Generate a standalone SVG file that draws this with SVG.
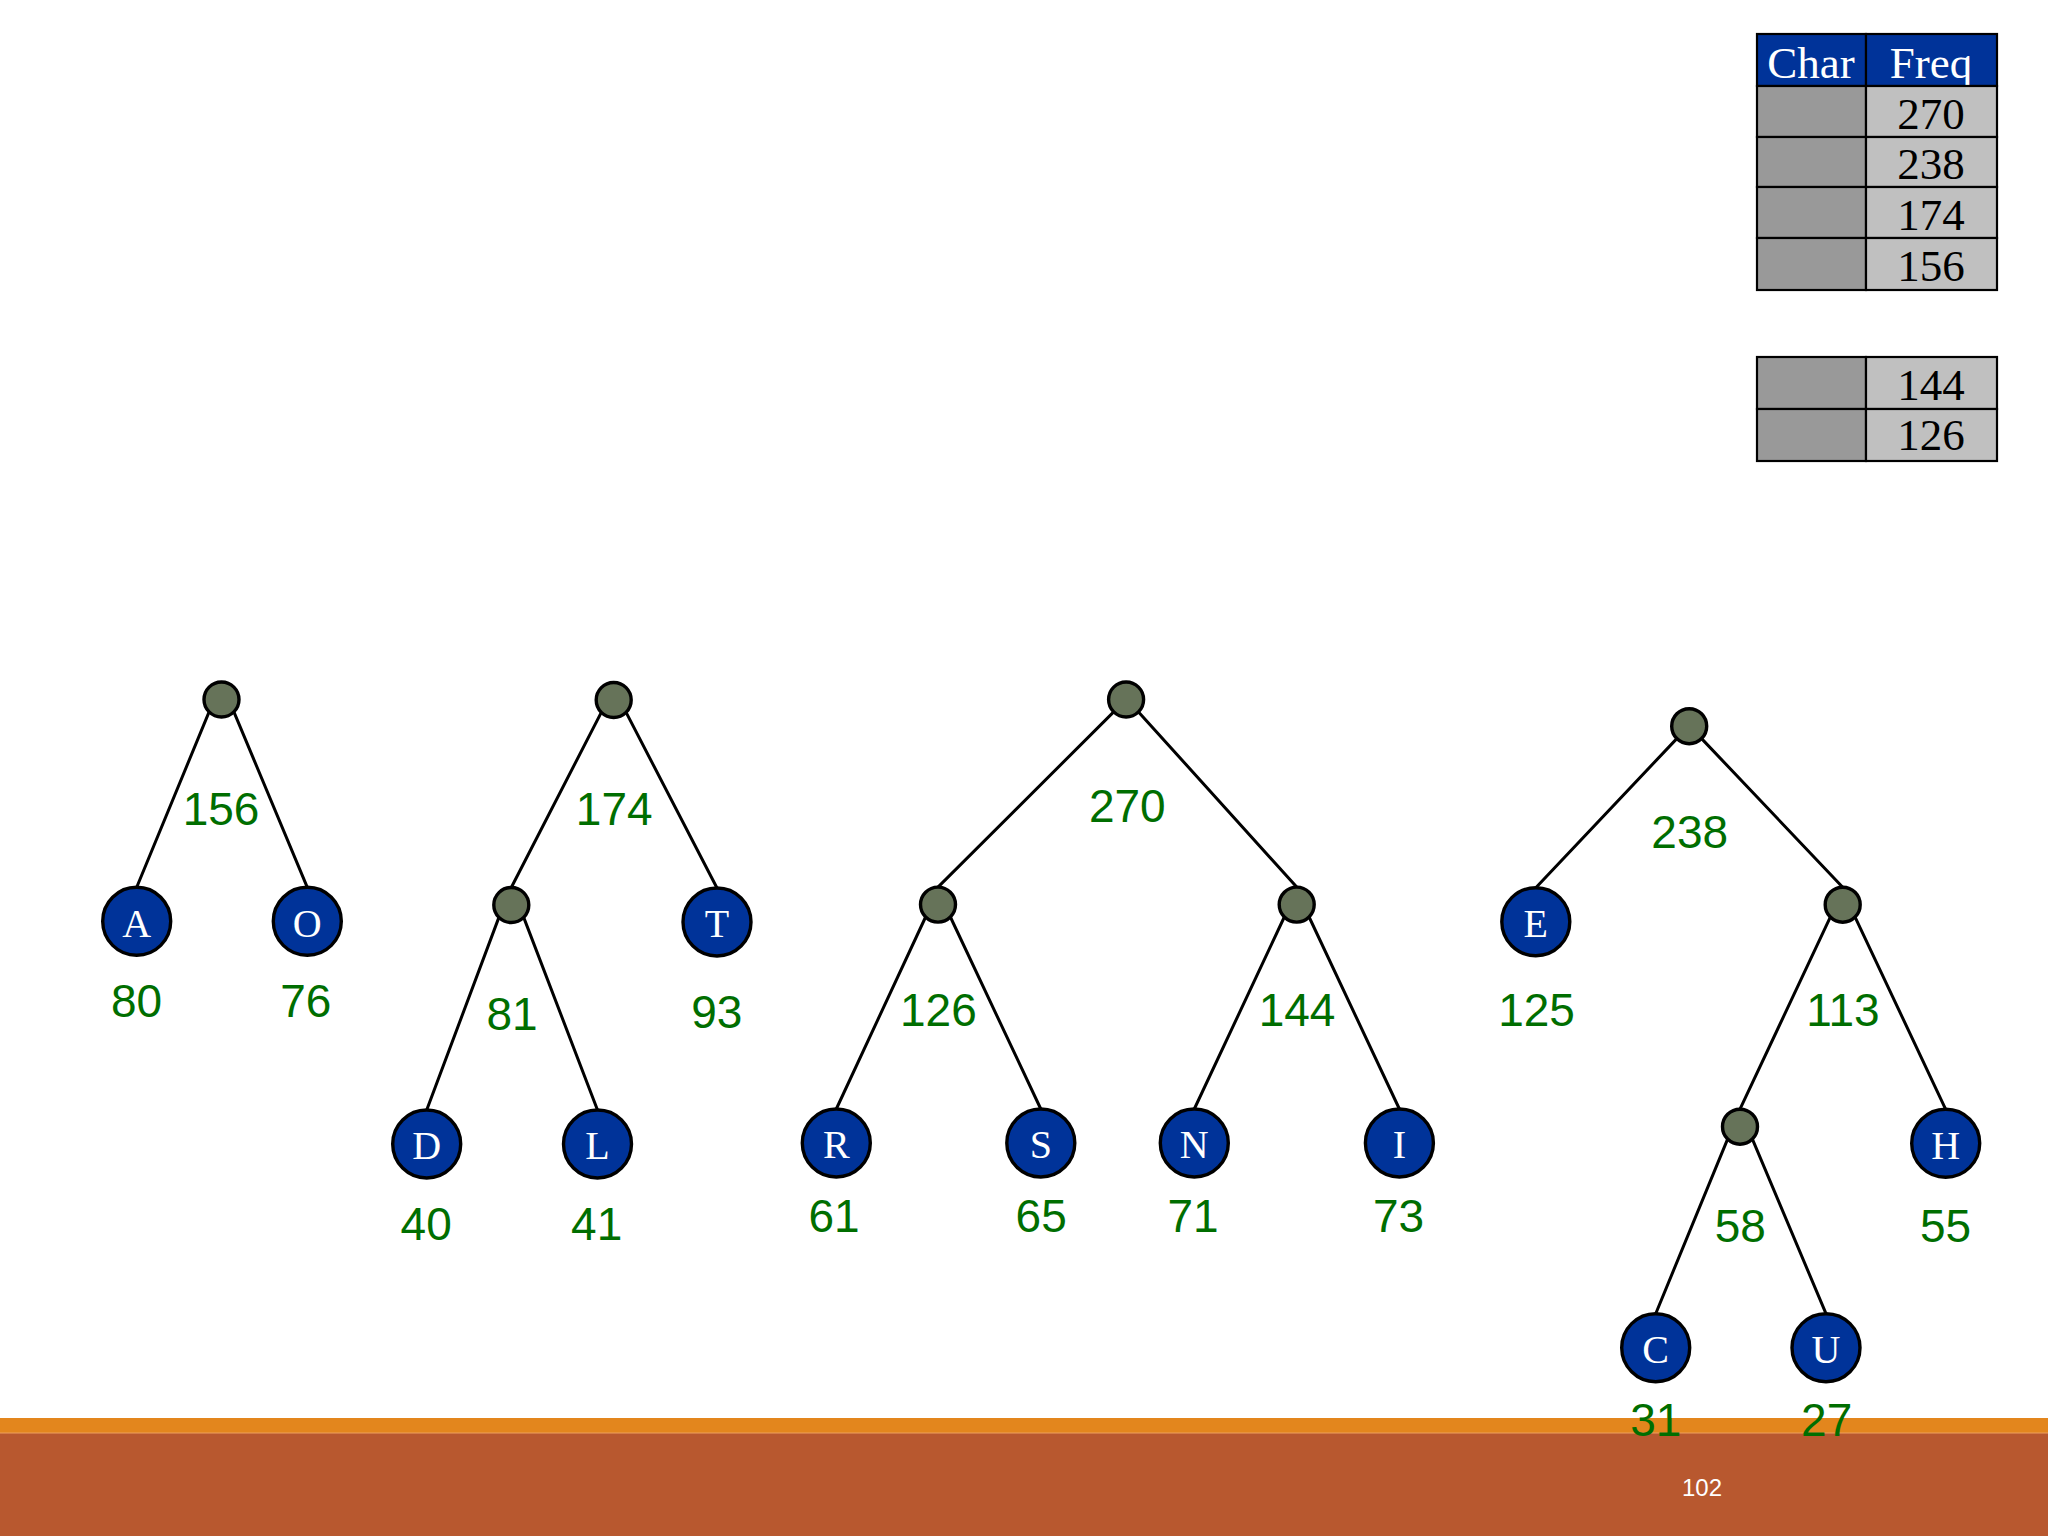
<svg xmlns="http://www.w3.org/2000/svg" width="2048" height="1536" viewBox="0 0 2048 1536">
<style>
.edge{stroke:#000;stroke-width:3;fill:none;stroke-linecap:round}
.inner{fill:#667359;stroke:#000;stroke-width:3.4}
.leaf{fill:#003399;stroke:#000;stroke-width:3.4}
.ch{font-family:"Liberation Serif","Times New Roman",serif;font-size:40px;fill:#fff;text-anchor:middle}
.num{font-family:"Comic Sans MS","Liberation Sans",sans-serif;font-size:46px;fill:#006e00;text-anchor:middle}
.tc{stroke:#000;stroke-width:2.2}
.th{fill:#003399}
.tg1{fill:#999999}
.tg2{fill:#c0c0c0}
.tt{font-family:"Liberation Serif","Times New Roman",serif;font-size:45px;text-anchor:middle}
</style>
<rect width="2048" height="1536" fill="#ffffff"/>

<g id="freq-table">
  <rect class="th tc" x="1757" y="34" width="109" height="52"/>
  <rect class="th tc" x="1866" y="34" width="131" height="52"/>
  <text class="tt" x="1811" y="78" fill="#fff">Char</text>
  <text class="tt" x="1931" y="78" fill="#fff">Freq</text>
  <rect class="tg1 tc" x="1757" y="86" width="109" height="51"/>
  <rect class="tg2 tc" x="1866" y="86" width="131" height="51"/>
  <text class="tt" x="1931" y="129">270</text>
  <rect class="tg1 tc" x="1757" y="137" width="109" height="50"/>
  <rect class="tg2 tc" x="1866" y="137" width="131" height="50"/>
  <text class="tt" x="1931" y="179">238</text>
  <rect class="tg1 tc" x="1757" y="187" width="109" height="51"/>
  <rect class="tg2 tc" x="1866" y="187" width="131" height="51"/>
  <text class="tt" x="1931" y="230">174</text>
  <rect class="tg1 tc" x="1757" y="238" width="109" height="52"/>
  <rect class="tg2 tc" x="1866" y="238" width="131" height="52"/>
  <text class="tt" x="1931" y="281">156</text>
</g>
<g id="freq-table-2">
  <rect class="tg1 tc" x="1757" y="357" width="109" height="52"/>
  <rect class="tg2 tc" x="1866" y="357" width="131" height="52"/>
  <text class="tt" x="1931" y="400">144</text>
  <rect class="tg1 tc" x="1757" y="409" width="109" height="52"/>
  <rect class="tg2 tc" x="1866" y="409" width="131" height="52"/>
  <text class="tt" x="1931" y="450">126</text>
</g>

<g id="footer">
  <rect x="0" y="1418" width="2048" height="15" fill="#e3861d"/>
  <rect x="0" y="1433" width="2048" height="103" fill="#b8582f"/>
  <line x1="0" y1="1433" x2="2048" y2="1433" stroke="#eda060" stroke-width="1.2"/>
  <text x="1702" y="1496" font-family="Liberation Sans, Arial, sans-serif" font-size="24" fill="#ffffff" text-anchor="middle">102</text>
</g>

<g id="connectors">
  <line class="edge" x1="209.1" y1="711.9" x2="136.7" y2="887.3"/>
  <line class="edge" x1="233.9" y1="711.9" x2="307.3" y2="887.3"/>

  <line class="edge" x1="601.3" y1="712.4" x2="511.3" y2="887.5"/>
  <line class="edge" x1="626.1" y1="712.4" x2="717" y2="888"/>
  <line class="edge" x1="498.9" y1="917.4" x2="426.7" y2="1110"/>
  <line class="edge" x1="523.7" y1="917.4" x2="597.5" y2="1110"/>

  <line class="edge" x1="1113.7" y1="711.9" x2="938" y2="887.1"/>
  <line class="edge" x1="1138.5" y1="711.9" x2="1296.7" y2="887.1"/>
  <line class="edge" x1="925.6" y1="917" x2="836.3" y2="1109"/>
  <line class="edge" x1="950.4" y1="917" x2="1040.8" y2="1109"/>
  <line class="edge" x1="1284.3" y1="917" x2="1194.3" y2="1109"/>
  <line class="edge" x1="1309.1" y1="917" x2="1399.4" y2="1109"/>

  <line class="edge" x1="1676.8" y1="738.6" x2="1535.8" y2="887.7"/>
  <line class="edge" x1="1701.6" y1="738.6" x2="1842.7" y2="887.2"/>
  <line class="edge" x1="1830.3" y1="917.1" x2="1740" y2="1109.2"/>
  <line class="edge" x1="1855.1" y1="917.1" x2="1945.7" y2="1109.3"/>
  <line class="edge" x1="1727.6" y1="1139.1" x2="1655.7" y2="1313.7"/>
  <line class="edge" x1="1752.4" y1="1139.1" x2="1826" y2="1313.7"/>
</g>

<!-- Tree 1 -->
<g id="n156"><circle class="inner" cx="221.5" cy="699.5" r="17.5"/><text class="num" x="221" y="825">156</text></g>
<g id="nA"><circle class="leaf" cx="136.7" cy="921.3" r="34"/><text class="ch" x="136.7" y="936.5">A</text><text class="num" x="136.5" y="1017">80</text></g>
<g id="nO"><circle class="leaf" cx="307.3" cy="921.3" r="34"/><text class="ch" x="307.3" y="936.5">O</text><text class="num" x="305.8" y="1017">76</text></g>

<!-- Tree 2 -->
<g id="n174"><circle class="inner" cx="613.7" cy="700" r="17.5"/><text class="num" x="614.2" y="825">174</text></g>
<g id="n81"><circle class="inner" cx="511.3" cy="905" r="17.5"/><text class="num" x="512" y="1030">81</text></g>
<g id="nT"><circle class="leaf" cx="717" cy="922" r="34"/><text class="ch" x="717" y="937">T</text><text class="num" x="716.8" y="1028">93</text></g>
<g id="nD"><circle class="leaf" cx="426.7" cy="1144" r="34"/><text class="ch" x="426.7" y="1159">D</text><text class="num" x="426.2" y="1240">40</text></g>
<g id="nL"><circle class="leaf" cx="597.5" cy="1144" r="34"/><text class="ch" x="597.5" y="1159">L</text><text class="num" x="596.7" y="1240">41</text></g>

<!-- Tree 3 -->
<g id="n270"><circle class="inner" cx="1126.1" cy="699.5" r="17.5"/><text class="num" x="1127.3" y="822">270</text></g>
<g id="n126"><circle class="inner" cx="938" cy="904.6" r="17.5"/><text class="num" x="938.4" y="1026">126</text></g>
<g id="n144"><circle class="inner" cx="1296.7" cy="904.6" r="17.5"/><text class="num" x="1297" y="1026">144</text></g>
<g id="nR"><circle class="leaf" cx="836.3" cy="1143" r="34"/><text class="ch" x="836.3" y="1158">R</text><text class="num" x="834" y="1232">61</text></g>
<g id="nS"><circle class="leaf" cx="1040.8" cy="1143" r="34"/><text class="ch" x="1040.8" y="1158">S</text><text class="num" x="1041.2" y="1232">65</text></g>
<g id="nN"><circle class="leaf" cx="1194.3" cy="1143" r="34"/><text class="ch" x="1194.3" y="1158">N</text><text class="num" x="1193" y="1232">71</text></g>
<g id="nI"><circle class="leaf" cx="1399.4" cy="1143" r="34"/><text class="ch" x="1399.4" y="1158">I</text><text class="num" x="1398.6" y="1232">73</text></g>

<!-- Tree 4 -->
<g id="n238"><circle class="inner" cx="1689.2" cy="726.2" r="17.5"/><text class="num" x="1689.7" y="848">238</text></g>
<g id="nE"><circle class="leaf" cx="1535.8" cy="921.7" r="34"/><text class="ch" x="1535.8" y="936.7">E</text><text class="num" x="1536.5" y="1026">125</text></g>
<g id="n113"><circle class="inner" cx="1842.7" cy="904.7" r="17.5"/><text class="num" x="1843" y="1026">113</text></g>
<g id="n58"><circle class="inner" cx="1740" cy="1126.7" r="17.5"/><text class="num" x="1740.3" y="1242">58</text></g>
<g id="nH"><circle class="leaf" cx="1945.7" cy="1143.3" r="34"/><text class="ch" x="1945.7" y="1159">H</text><text class="num" x="1945.5" y="1242">55</text></g>
<g id="nC"><circle class="leaf" cx="1655.7" cy="1347.7" r="34"/><text class="ch" x="1655.7" y="1363">C</text><text class="num" x="1655.8" y="1436">31</text></g>
<g id="nU"><circle class="leaf" cx="1826" cy="1347.7" r="34"/><text class="ch" x="1826" y="1363">U</text><text class="num" x="1826.7" y="1436">27</text></g>
</svg>
